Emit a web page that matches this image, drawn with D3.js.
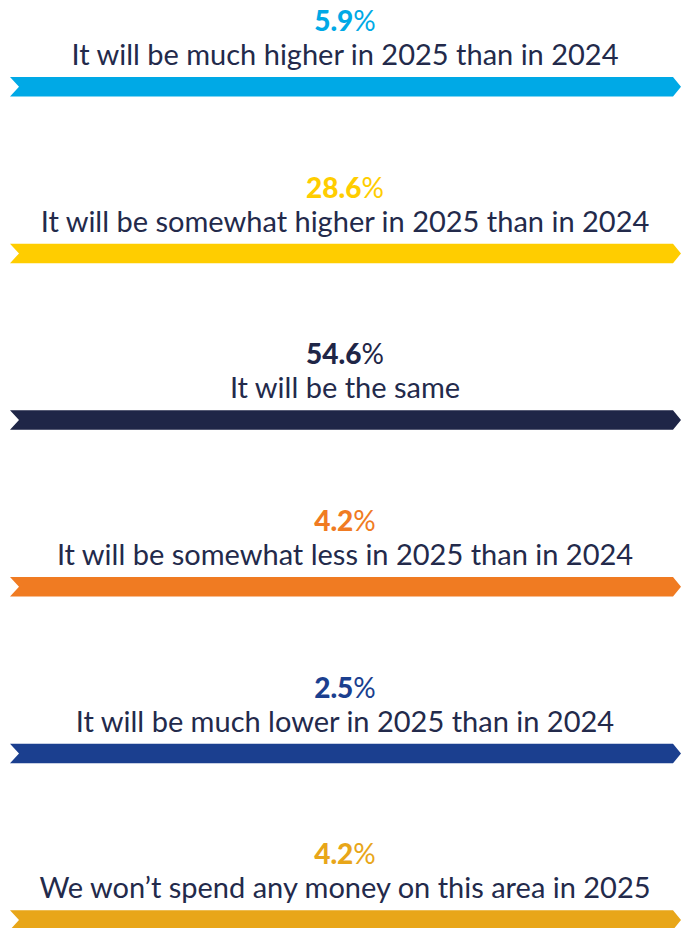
<!DOCTYPE html>
<html>
<head>
<meta charset="utf-8">
<script src="https://cdn.jsdelivr.net/npm/d3@7"></script>
<style>
  html, body { margin: 0; padding: 0; background: #ffffff; }
  svg { display: block; }
</style>
</head>
<body>
<div id="chart"></div>
<script>
// Survey answers, their shares and colours
const answers = [
  "It will be much higher in 2025 than in 2024",
  "It will be somewhat higher in 2025 than in 2024",
  "It will be the same",
  "It will be somewhat less in 2025 than in 2024",
  "It will be much lower in 2025 than in 2024",
  "We won\u2019t spend any money on this area in 2025"
];
const shares = [5.9, 28.6, 54.6, 4.2, 2.5, 4.2];
const colors = ["#00a9e6", "#ffcd00", "#1f2647", "#f07b22", "#1b3f8f", "#e8a619"];

const width = 686, height = 928;
const textColor = "#232a4b";
const font = "Lato, 'Noto Sans', sans-serif";

const svg = d3.select("#chart").append("svg")
  .attr("width", width)
  .attr("height", height);

// each answer occupies one row band
const y = d3.scaleBand()
  .domain(answers)
  .range([0, 1000])
  .paddingInner(0)
  .paddingOuter(0);

const x = d3.scaleLinear().domain([0, 1]).range([10, 681]);

const rows = svg.selectAll("g.row")
  .data(answers.map((a, i) => ({ answer: a, share: shares[i], color: colors[i] })))
  .join("g")
  .attr("class", "row")
  .attr("transform", d => `translate(0,${y(d.answer)})`);

// ribbon arrow: notched left end, pointed right end
const barTop = 77, barH = 19.5, notch = 9, tip = 8;
rows.append("path")
  .attr("fill", d => d.color)
  .attr("d", () => {
    const x0 = x(0), x1 = x(1);
    const t = barTop, b = barTop + barH, m = barTop + barH / 2;
    return `M${x0},${t} L${x1 - tip},${t} L${x1},${m} L${x1 - tip},${b} L${x0},${b} L${x0 + notch},${m} Z`;
  });

// share value
const pct = rows.append("text")
  .attr("x", width / 2 + 2)
  .attr("y", 31)
  .attr("text-anchor", "middle")
  .attr("font-family", font)
  .attr("font-size", 28)
  .attr("fill", d => d.color);
pct.append("tspan")
  .attr("font-weight", 900)
  .text(d => d3.format(".1f")(d.share));
pct.append("tspan")
  .attr("font-weight", 400)
  .text("%");

// answer label
rows.append("text")
  .attr("x", width / 2 + 2)
  .attr("y", 65)
  .attr("text-anchor", "middle")
  .attr("font-family", font)
  .attr("font-size", 29)
  .attr("fill", textColor)
  .text(d => d.answer);
</script>
</body>
</html>
